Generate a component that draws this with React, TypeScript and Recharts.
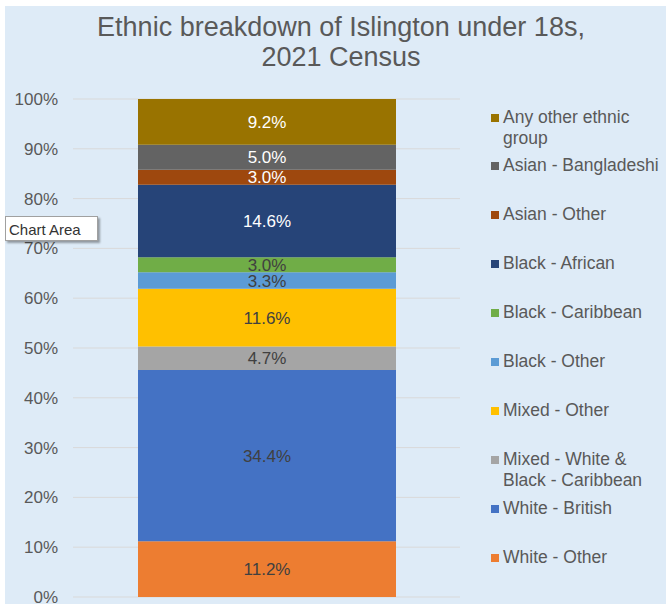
import React from 'react';
import { BarChart, Bar, XAxis, YAxis, CartesianGrid, LabelList } from 'recharts';

// one stacked column, bottom segment first
const categories = ['Islington under 18s'];
const seriesNames = [
  'White - Other',
  'White - British',
  'Mixed - White & Black - Caribbean',
  'Mixed - Other',
  'Black - Other',
  'Black - Caribbean',
  'Black - African',
  'Asian - Other',
  'Asian - Bangladeshi',
  'Any other ethnic group',
];
const seriesValues = [11.2, 34.4, 4.7, 11.6, 3.3, 3.0, 14.6, 3.0, 5.0, 9.2];
const seriesColors = [
  '#ED7D31', '#4472C4', '#A5A5A5', '#FFC000', '#5B9BD5',
  '#70AD47', '#264478', '#9E480E', '#636363', '#997300',
];
const labelColors = [
  '#404040', '#404040', '#404040', '#404040', '#404040',
  '#404040', '#FFFFFF', '#FFFFFF', '#FFFFFF', '#FFFFFF',
];
const yTicks = [0, 10, 20, 30, 40, 50, 60, 70, 80, 90, 100];
const titleLines = ['Ethnic breakdown of Islington under 18s,', '2021 Census'];

const FONT = 'Arial, "Liberation Sans", sans-serif';

const chartData = categories.map((category) => {
  const row: Record<string, any> = { category };
  seriesNames.forEach((_, i) => {
    row[`s${i}`] = seriesValues[i];
  });
  return row;
});

const App: React.FC = () => {
  // legend reads top to bottom in reverse stack order
  const legendOrder = seriesNames.map((_, i) => i).reverse();

  return (
    <div style={{ position: 'absolute', left: 0, top: 0, width: 666, height: 604, background: '#fff', fontFamily: FONT }}>
      <div style={{ position: 'absolute', left: 5, top: 6, width: 661, height: 598, background: '#DEEBF7' }}>
        <BarChart
          width={661}
          height={598}
          data={chartData}
          margin={{ top: 93, right: 206, bottom: 7, left: 0 }}
        >
          <CartesianGrid vertical={false} stroke="#D9D9D9" />
          <XAxis dataKey="category" hide />
          <YAxis
            width={68}
            domain={[0, 100]}
            ticks={yTicks}
            interval={0}
            axisLine={false}
            tickLine={false}
            tickSize={0}
            tickMargin={15}
            tickFormatter={(v: number) => `${v}%`}
            tick={{ fill: '#595959', fontSize: 17, fontFamily: FONT }}
          />
          {seriesNames.map((name, i) => (
            <Bar
              key={name}
              dataKey={`s${i}`}
              name={name}
              stackId="a"
              fill={seriesColors[i]}
              barSize={258}
              isAnimationActive={false}
            >
              <LabelList
                dataKey={`s${i}`}
                position="center"
                formatter={(v: any) => `${Number(v).toFixed(1)}%`}
                fill={labelColors[i]}
                style={{ fontSize: 17, fontFamily: FONT }}
              />
            </Bar>
          ))}
        </BarChart>
      </div>

      {/* title */}
      <div
        style={{
          position: 'absolute', left: 0, top: 12, width: 682, textAlign: 'center',
          fontSize: 27, lineHeight: '30px', color: '#595959',
        }}
      >
        {titleLines.map((t) => (
          <div key={t}>{t}</div>
        ))}
      </div>

      {/* legend */}
      {legendOrder.map((idx, row) => (
        <div
          key={seriesNames[idx]}
          style={{ position: 'absolute', left: 491, top: 106.5 + row * 48.9, display: 'flex', alignItems: 'flex-start' }}
        >
          <div style={{ width: 8, height: 8, marginTop: 7, background: seriesColors[idx] }} />
          <div style={{ marginLeft: 4, width: 160, fontSize: 17.5, lineHeight: '21px', color: '#595959' }}>
            {seriesNames[idx]}
          </div>
        </div>
      ))}

      {/* Excel hover hint */}
      <div
        style={{
          position: 'absolute', left: 5, top: 216, width: 93, height: 25, background: '#fff',
          border: '1px solid #A0A0A0', boxShadow: '2px 2px 2px rgba(0,0,0,0.35)',
          fontSize: 15, lineHeight: '25px', color: '#333', paddingLeft: 3, boxSizing: 'border-box',
        }}
      >
        Chart Area
      </div>
    </div>
  );
};

export default App;
